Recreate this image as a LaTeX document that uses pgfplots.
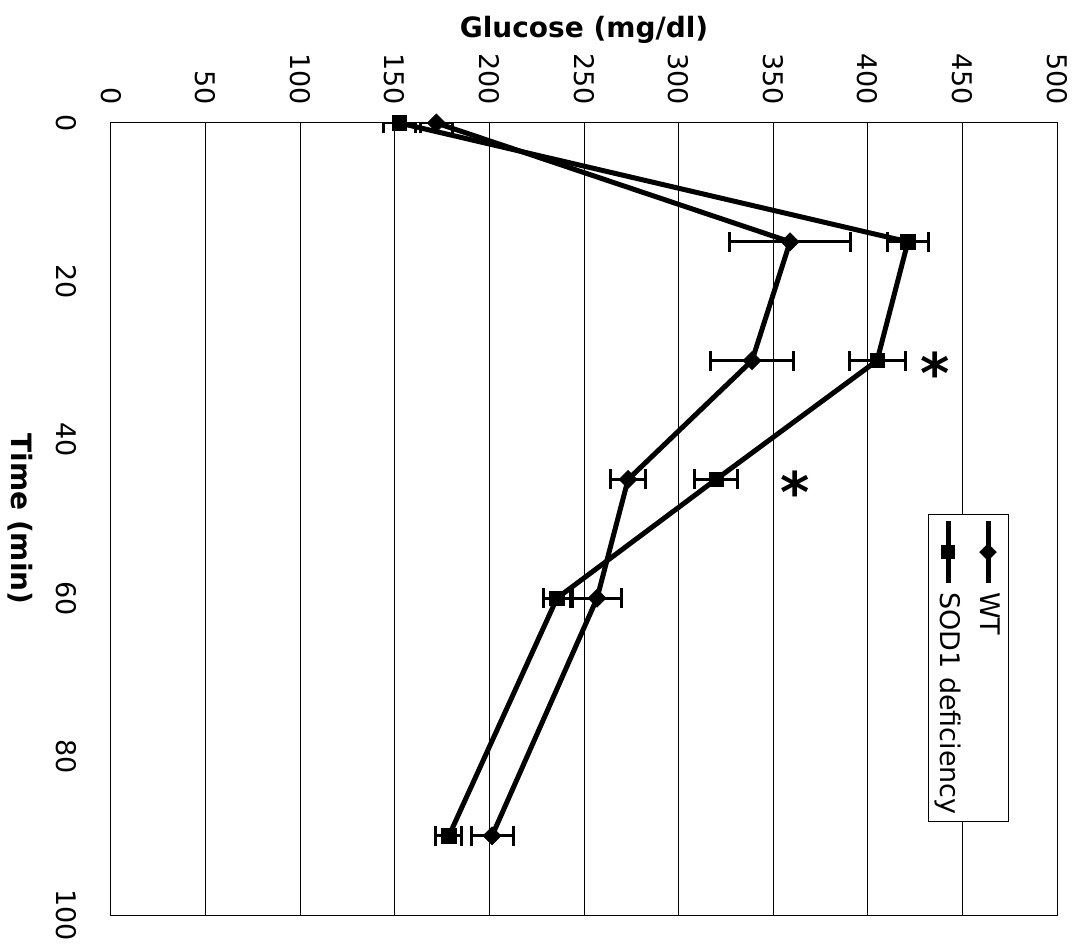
\documentclass[border=0pt]{standalone}
\usepackage{fontspec}
\setmainfont{DejaVu Sans}
\usepackage{graphicx}
\usepackage{pgfplots}
\pgfplotsset{compat=1.18}
\newcommand{\lsample}[1]{\makebox[0pt][l]{\raisebox{2.75pt}{\rule{31pt}{2.5pt}}}\makebox[31pt]{#1}}
\newcommand{\lsquare}{\raisebox{0.4pt}{\rule{7.2pt}{7.2pt}}}
\newcommand{\ldiamond}{\raisebox{-0.4pt}{\rotatebox{45}{\rule{6.2pt}{6.2pt}}}}
\begin{document}
\begin{tikzpicture}
\begin{axis}[
  name=ax,
  at={(0,0)}, anchor=south west,
  scale only axis, width=473pt, height=396pt,
  xmin=0, xmax=500, ymin=0, ymax=100,
  y dir=reverse,
  xticklabel pos=right,
  xtick={0,50,...,500},
  ytick={0,20,...,100},
  xmajorgrids=true,
  major grid style={black, line width=0.5pt},
  axis line style={black, line width=0.5pt},
  major tick length=0pt,
  /pgf/number format/assume math mode=true,
  tick label style={font=\fontsize{13.5}{16}\selectfont},
  xticklabel style={rotate=-90, anchor=east, inner xsep=9pt, inner ysep=0pt},
  yticklabel style={rotate=-90, anchor=north, inner ysep=17pt, inner xsep=0pt},
]
\addplot[black, line width=2.5pt, mark=square*,
  mark options={rotate=45, mark size=3.2pt, line width=0.3pt, solid},
  error bars/.cd, x dir=both, x explicit,
  error bar style={line width=1.5pt, black},
  error mark options={rotate=90, line width=1.5pt, mark size=5pt, black}]
  coordinates {
  (172.0,0)  +- (8.5,0)
  (358.9,15) +- (32.0,0)
  (338.8,30) +- (22.0,0)
  (273.3,45) +- (9.2,0)
  (256.9,60) +- (13.0,0)
  (201.4,90) +- (11.1,0)
  };
\addplot[black, line width=2.5pt, mark=square*,
  mark options={mark size=3.6pt, line width=0.3pt, solid},
  error bars/.cd, x dir=both, x explicit,
  error bar style={line width=1.5pt, black},
  error mark options={rotate=90, line width=1.5pt, mark size=5pt, black}]
  coordinates {
  (152.4,0)  +- (8.5,0)
  (421.2,15) +- (10.8,0)
  (404.9,30) +- (14.8,0)
  (319.8,45) +- (11.2,0)
  (235.7,60) +- (7.1,0)
  (178.6,90) +- (6.9,0)
  };
\node[font=\fontsize{28}{28}\selectfont\bfseries] at (axis cs:435.5,31.5) {*};
\node[font=\fontsize{28}{28}\selectfont\bfseries] at (axis cs:361.5,46.5) {*};
\node[draw=black, line width=0.5pt, fill=white, rotate=-90, inner xsep=3.5pt, inner ysep=0pt,
  font=\fontsize{13.5}{15}\selectfont] at (axis cs:453,68.8)
  {\def\arraystretch{1.333}\begin{tabular}{@{}l@{}}
   \lsample{\ldiamond}\hspace{4.5pt}WT\\
   \lsample{\lsquare}\hspace{4.5pt}SOD1 deficiency
   \end{tabular}};
\end{axis}
\node[font=\fontsize{14}{16}\selectfont\bfseries] at ([yshift=46.5pt]ax.north) {Glucose (mg/dl)};
\node[rotate=-90, font=\fontsize{14}{16}\selectfont\bfseries] at ([xshift=-45.5pt]ax.west) {Time (min)};
\pgfresetboundingbox
\path[use as bounding box] ([xshift=-55.5pt,yshift=-15pt]ax.south west) rectangle ([xshift=11pt,yshift=61.5pt]ax.north east);
\end{tikzpicture}
\end{document}
